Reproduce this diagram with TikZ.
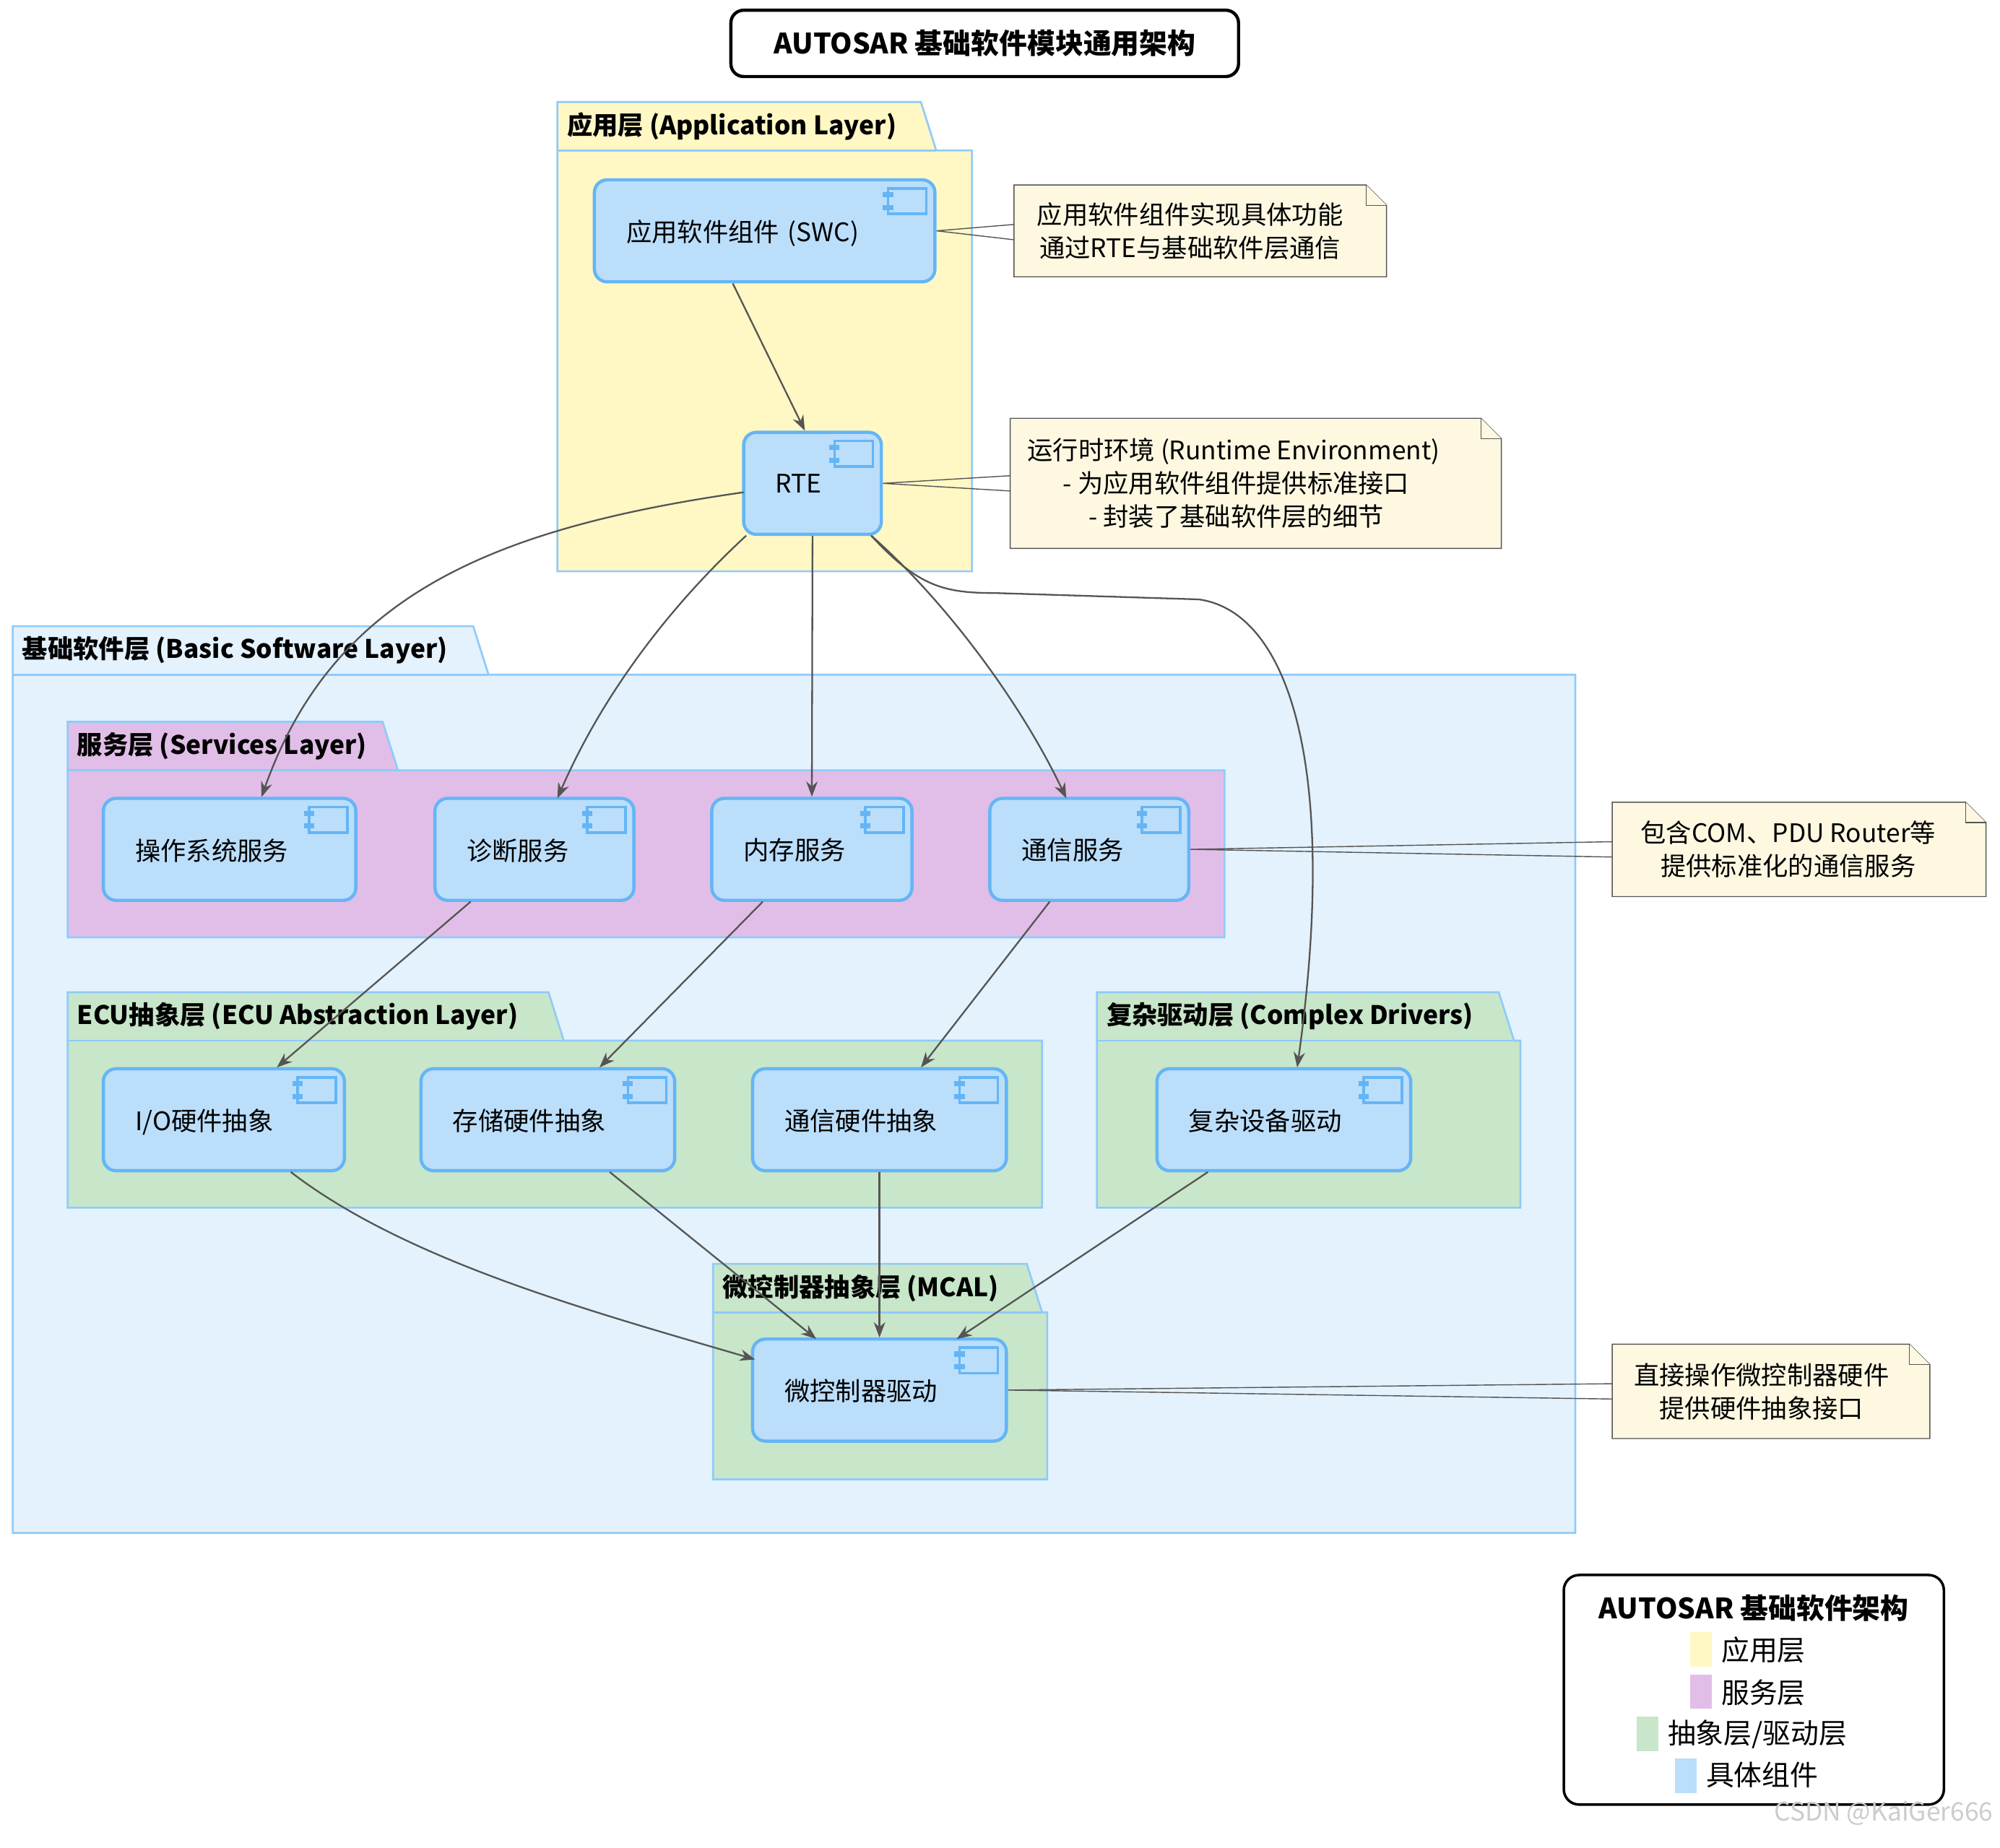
\documentclass[tikz,border=0pt]{standalone}
\usepackage{fontspec}
\setmainfont{Noto Sans CJK SC}
\usetikzlibrary{arrows.meta,shapes.misc}
\definecolor{appY}{HTML}{FFF8C4}
\definecolor{bswB}{HTML}{E3F2FD}
\definecolor{svcP}{HTML}{E1BEE7}
\definecolor{absG}{HTML}{C8E6C9}
\definecolor{compB}{HTML}{BBDEFB}
\definecolor{compE}{HTML}{64B5F6}
\definecolor{pkgE}{HTML}{90CAF9}
\definecolor{noteY}{HTML}{FEF8E1}
\definecolor{edge}{HTML}{555555}
\tikzset{
 comp/.style={draw=compE,fill=compB,line width=2.5pt,rounded corners=10pt,font=\fontsize{20}{24}\selectfont},
 pkg/.style={draw=pkgE,line width=1.5pt},
 tab/.style={font=\bfseries\fontsize{20}{24}\selectfont,anchor=west},
 arr/.style={draw=edge,line width=1.3pt,-{Stealth[length=12pt,width=9pt]}},
 nl/.style={draw=edge,line width=0.8pt},
 note/.style={draw=edge,fill=noteY,line width=0.8pt},
 ntxt/.style={font=\fontsize{20}{26}\selectfont,align=center},
}
\newcommand{\pkgbox}[6]{% x1 y1 tabx2 y2 x2 y3, fill
 \fill[#6] (#1,#2)--(#3,#2)--(#3+12,#2+38)--(#5,#2+38)--(#5,#4)--(#1,#4)--cycle;
 \draw[pkg] (#1,#2+38)--(#1,#2)--(#3,#2)--(#3+12,#2+38)--(#5,#2+38)--(#5,#4)--(#1,#4)--cycle;
 \draw[pkg] (#1,#2+38)--(#3+12,#2+38);}
\newcommand{\icn}[1]{%
 \draw[compE,line width=2pt,fill=compB] ([xshift=-38pt,yshift=-8pt]#1.north east) rectangle ([xshift=-8pt,yshift=-28pt]#1.north east);
 \fill[compE] ([xshift=-42pt,yshift=-11pt]#1.north east) rectangle ([xshift=-34pt,yshift=-15pt]#1.north east);
 \fill[compE] ([xshift=-42pt,yshift=-21pt]#1.north east) rectangle ([xshift=-34pt,yshift=-25pt]#1.north east);}
\newcommand{\notebox}[5]{% name x1 y1 x2 y2
 \draw[note] (#2,#3)--(#4-16,#3)--(#4,#3+16)--(#4,#5)--(#2,#5)--cycle;
 \draw[note] (#4-16,#3)--(#4-16,#3+16)--(#4,#3+16);
 \coordinate (#1) at (#2,{(#3+#5)/2});}
\begin{document}
\begin{tikzpicture}[x=1pt,y=-1pt]
\useasboundingbox (0,0) rectangle (1568,1449);
\fill[white] (0,0) rectangle (1568,1449);
% title
\node[draw=black,line width=2.5pt,rounded corners=10pt,minimum width=398pt,minimum height=52pt,font=\bfseries\fontsize{22}{26}\selectfont] (title) at (772,34) {AUTOSAR 基础软件模块通用架构};
% packages
\pkgbox{437}{80}{722}{448}{762}{appY}
\node[tab] at (441,99) {应用层 (Application Layer)};
\pkgbox{10}{491}{371}{1202}{1235}{bswB}
\node[tab] at (14,510) {基础软件层 (Basic Software Layer)};
\pkgbox{53}{566}{300}{735}{960}{svcP}
\node[tab] at (57,585) {服务层 (Services Layer)};
\pkgbox{53}{778}{430}{947}{817}{absG}
\node[tab] at (57,797) {ECU抽象层 (ECU Abstraction Layer)};
\pkgbox{860}{778}{1175}{947}{1192}{absG}
\node[tab] at (864,797) {复杂驱动层 (Complex Drivers)};
\pkgbox{559}{991}{805}{1160}{821}{absG}
\node[tab] at (563,1010) {微控制器抽象层 (MCAL)};
% components
\newcommand{\cmp}[6]{\node[comp,minimum width=#4pt,minimum height=80pt,text depth=-18pt,align=left,text width=#4pt-50pt,inner xsep=25pt] (#1) at (#2+#4/2,#3+40) {#6};\icn{#1}}
\cmp{swc}{466}{141}{267}{}{应用软件组件 (SWC)}
\cmp{rte}{583}{339}{108}{}{RTE}
\cmp{os}{81}{626}{198}{}{操作系统服务}
\cmp{diag}{341}{626}{156}{}{诊断服务}
\cmp{mem}{558}{626}{157}{}{内存服务}
\cmp{com}{776}{626}{156}{}{通信服务}
\cmp{io}{81}{838}{189}{}{I/O硬件抽象}
\cmp{sto}{330}{838}{199}{}{存储硬件抽象}
\cmp{chw}{590}{838}{199}{}{通信硬件抽象}
\cmp{cdd}{907}{838}{199}{}{复杂设备驱动}
\cmp{mcu}{590}{1050}{199}{}{微控制器驱动}
% notes
\notebox{n1}{795}{145}{1087}{217}
\node[ntxt] at (933,181) {应用软件组件实现具体功能\\通过RTE与基础软件层通信};
\notebox{n2}{792}{328}{1177}{430}
\node[ntxt,align=left,anchor=west] at (802,379) {运行时环境 (Runtime Environment)\\\hspace{28pt}- 为应用软件组件提供标准接口\\\hspace{48pt}- 封装了基础软件层的细节};
\notebox{n3}{1264}{629}{1557}{703}
\node[ntxt] at (1402,666) {包含COM、PDU Router等\\提供标准化的通信服务};
\notebox{n4}{1264}{1054}{1513}{1128}
\node[ntxt] at (1381,1091) {直接操作微控制器硬件\\提供硬件抽象接口};
\draw[nl] (swc.east)--(795,176) (swc.east)--(795,188);
\draw[nl] (rte.east)--(792,373) (rte.east)--(792,385);
\draw[nl] (com.east)--(1264,660) (com.east)--(1264,672);
\draw[nl] (mcu.east)--(1264,1085) (mcu.east)--(1264,1097);
% edges
\draw[arr] ([xshift=-25pt]swc.south) -- ([xshift=-6pt]rte.north);
\draw[arr] (583,386) .. controls (380,415) and (260,470) .. (205,625);
\draw[arr] (585,420) .. controls (520,480) and (470,550) .. (437,626);
\draw[arr] (rte.south) -- (mem.north);
\draw[arr] (683,420) .. controls (740,470) and (800,550) .. (836,626);
\draw[arr] (683,420) .. controls (720,460) and (740,465) .. (780,465) -- (940,470) .. controls (1010,480) and (1050,600) .. (1017,837);
\draw[arr] (369,707) -- (217,837);
\draw[arr] (598,707) -- (470,837);
\draw[arr] (823,707) -- (722,837);
\draw[arr] (228,919) .. controls (320,990) and (470,1030) .. (592,1066);
\draw[arr] (478,919) -- (640,1050);
\draw[arr] (chw.south) -- (mcu.north);
\draw[arr] (947,919) -- (750,1050);
% legend
\node[draw=black,line width=2pt,rounded corners=12pt,minimum width=298pt,minimum height=180pt] (leg) at (1375,1325) {};
\node[font=\bfseries\fontsize{22}{26}\selectfont] (lt) at (1375,1261) {AUTOSAR 基础软件架构};
\fill[appY] (1325,1280) rectangle (1342,1307);
\node[font=\fontsize{22}{26}\selectfont,anchor=west] (l1) at (1346,1294) {应用层};
\fill[svcP] (1325,1313) rectangle (1342,1340);
\node[font=\fontsize{22}{26}\selectfont,anchor=west] (l2) at (1346,1327) {服务层};
\fill[absG] (1283,1346) rectangle (1300,1373);
\node[font=\fontsize{22}{26}\selectfont,anchor=west] (l3) at (1304,1360) {抽象层/驱动层};
\fill[compB] (1313,1379) rectangle (1330,1406);
\node[font=\fontsize{22}{26}\selectfont,anchor=west] (l4) at (1334,1392) {具体组件};
\node[font=\fontsize{20}{24}\selectfont,text=black!20,anchor=east] (wm) at (1566,1422) {CSDN @KaiGer666};
\end{tikzpicture}
\end{document}
